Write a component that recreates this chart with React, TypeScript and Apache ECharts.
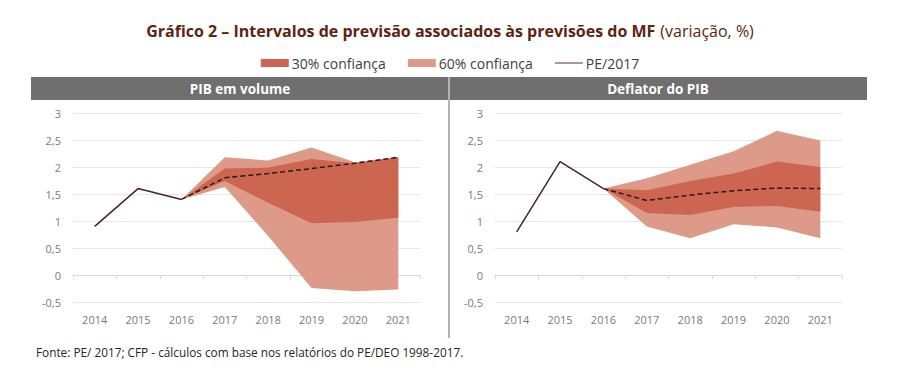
import React, { useEffect, useRef } from "react";
import * as echarts from "echarts";

const years = ["2014", "2015", "2016", "2017", "2018", "2019", "2020", "2021"];

// PIB em volume
const pibLine = [0.9, 1.6, 1.4, null, null, null, null, null];
const pibProj = [null, null, 1.4, 1.8, 1.88, 1.97, 2.07, 2.18];
const pib30Low = [null, null, 1.4, 1.74, 1.34, 0.96, 0.98, 1.06];
const pib30High = [null, null, 1.4, 1.97, 1.99, 2.15, 2.07, 2.18];
const pib60Low = [null, null, 1.4, 1.63, 0.72, -0.24, -0.3, -0.27];
const pib60High = [null, null, 1.4, 2.18, 2.12, 2.36, 2.09, 2.18];

// Deflator do PIB
const defLine = [0.8, 2.1, 1.6, null, null, null, null, null];
const defProj = [null, null, 1.6, 1.38, 1.48, 1.56, 1.61, 1.6];
const def30Low = [null, null, 1.6, 1.15, 1.11, 1.26, 1.28, 1.17];
const def30High = [null, null, 1.6, 1.57, 1.74, 1.88, 2.1, 2.0];
const def60Low = [null, null, 1.6, 0.9, 0.68, 0.94, 0.88, 0.68];
const def60High = [null, null, 1.6, 1.79, 2.04, 2.29, 2.67, 2.49];

const FONT = "'Open Sans', 'Noto Sans', sans-serif";
const DARK = "#cd6650";
const LIGHT = "#de9a88";
const LINE = "#4a2420";

function diff(hi: (number | null)[], lo: (number | null)[]) {
  return hi.map((h, i) => (h == null || lo[i] == null ? null : +(h - (lo[i] as number)).toFixed(4)));
}

function panelSeries(idx: number, line: any[], proj: any[], l30: any[], h30: any[], l60: any[], h60: any[]) {
  const common = {
    type: "line",
    xAxisIndex: idx * 2,
    yAxisIndex: idx,
    symbol: "none",
    silent: true,
    stackStrategy: "all",
  };
  return [
    { ...common, name: "base60_" + idx, stack: "L" + idx, data: l60, lineStyle: { width: 0, opacity: 0 } },
    {
      ...common,
      name: "60% confiança",
      stack: "L" + idx,
      data: diff(h60, l60),
      color: LIGHT,
      itemStyle: { color: LIGHT },
      lineStyle: { width: 0, opacity: 0 },
      areaStyle: { color: LIGHT, opacity: 1 },
    },
    { ...common, name: "base30_" + idx, stack: "D" + idx, data: l30, lineStyle: { width: 0, opacity: 0 } },
    {
      ...common,
      name: "30% confiança",
      stack: "D" + idx,
      data: diff(h30, l30),
      color: DARK,
      itemStyle: { color: DARK },
      lineStyle: { width: 0, opacity: 0 },
      areaStyle: { color: DARK, opacity: 1 },
    },
    {
      type: "line",
      name: "PE/2017",
      xAxisIndex: idx * 2,
      yAxisIndex: idx,
      symbol: "none",
      silent: true,
      data: line,
      color: LINE,
      itemStyle: { color: LINE },
      lineStyle: { color: LINE, width: 1.5 },
    },
    {
      type: "line",
      name: "proj_" + idx,
      xAxisIndex: idx * 2,
      yAxisIndex: idx,
      symbol: "none",
      silent: true,
      data: proj,
      lineStyle: { color: "#2a1a16", width: 1.5, type: [5, 3] },
    },
  ];
}

export default function App() {
  const ref = useRef<HTMLDivElement>(null);
  useEffect(() => {
    if (!ref.current) return;
    const chart = echarts.init(ref.current, undefined, { renderer: "svg" });
    const grids = [
      { left: 73, width: 347, top: 113, height: 189 },
      { left: 495, width: 347, top: 113, height: 189 },
    ];
    const xAxes: any[] = [];
    const yAxes: any[] = [];
    grids.forEach((_, i) => {
      xAxes.push({
        type: "category",
        gridIndex: i,
        data: years,
        boundaryGap: true,
        position: "bottom",
        axisLine: { show: false, onZero: false },
        axisTick: { show: false },
        axisLabel: { color: "#7a7a7a", fontSize: 11, fontFamily: FONT, margin: 12 },
      });
      xAxes.push({
        type: "category",
        gridIndex: i,
        data: years,
        boundaryGap: true,
        position: "bottom",
        axisLine: { show: true, onZero: true, lineStyle: { color: "#d9d9d9", width: 1 } },
        axisTick: { show: true, length: 4, lineStyle: { color: "#d9d9d9" } },
        axisLabel: { show: false },
      });
      yAxes.push({
        type: "value",
        gridIndex: i,
        min: -0.5,
        max: 3,
        interval: 0.5,
        axisLine: { show: false },
        axisTick: { show: false },
        splitLine: { lineStyle: { color: "#e6e6e6", width: 1 } },
        axisLabel: {
          color: "#7a7a7a",
          fontSize: 11,
          fontFamily: FONT,
          margin: 12,
          formatter: (v: number) => String(v).replace(".", ","),
        },
      });
    });

    chart.setOption({
      animation: false,
      backgroundColor: "#ffffff",
      title: {
        left: "center",
        top: 17,
        text: "{b|Gráfico 2 – Intervalos de previsão associados às previsões do MF} {n|(variação, %)}",
        textStyle: {
          rich: {
            b: { fontFamily: FONT, fontSize: 16, fontWeight: "bold", color: "#5e2412" },
            n: { fontFamily: FONT, fontSize: 16, fontWeight: "normal", color: "#5e2412" },
          },
        },
      },
      legend: {
        top: 51,
        left: "center",
        itemWidth: 28,
        itemHeight: 8,
        itemGap: 22,
        selectedMode: false,
        textStyle: { fontFamily: FONT, fontSize: 14, color: "#404040", padding: [0, 0, 0, -2] },
        data: [
          { name: "30% confiança", icon: "rect" },
          { name: "60% confiança", icon: "rect" },
          { name: "PE/2017", icon: "path://M0 0H60V2H0Z", itemStyle: { color: LINE } },
        ],
      },
      grid: grids,
      xAxis: xAxes,
      yAxis: yAxes,
      series: [
        ...panelSeries(0, pibLine, pibProj, pib30Low, pib30High, pib60Low, pib60High),
        ...panelSeries(1, defLine, defProj, def30Low, def30High, def60Low, def60High),
      ],
      graphic: [
        { type: "rect", shape: { x: 31, y: 77, width: 836, height: 23 }, style: { fill: "#6f6f6f" }, z: 10 },
        { type: "line", shape: { x1: 449, y1: 77, x2: 449, y2: 338 }, style: { stroke: "#b3b3b3", lineWidth: 2 }, z: 11 },
        {
          type: "text",
          x: 240,
          y: 88.5,
          style: { text: "PIB em volume", fill: "#ffffff", fontFamily: FONT, fontSize: 13.5, fontWeight: "bold", align: "center", verticalAlign: "middle" },
          z: 12,
        },
        {
          type: "text",
          x: 658,
          y: 88.5,
          style: { text: "Deflator do PIB", fill: "#ffffff", fontFamily: FONT, fontSize: 13.5, fontWeight: "bold", align: "center", verticalAlign: "middle" },
          z: 12,
        },
        {
          type: "text",
          x: 36,
          y: 352,
          style: {
            text: "Fonte: PE/ 2017; CFP - cálculos com base nos relatórios do PE/DEO 1998-2017.",
            fill: "#262626",
            fontFamily: FONT,
            fontSize: 11.8,
            align: "left",
            verticalAlign: "middle",
          },
          z: 12,
        },
      ],
    });
    return () => chart.dispose();
  }, []);
  return <div ref={ref} style={{ position: "fixed", left: 0, top: 0, width: 900, height: 378 }} />;
}
